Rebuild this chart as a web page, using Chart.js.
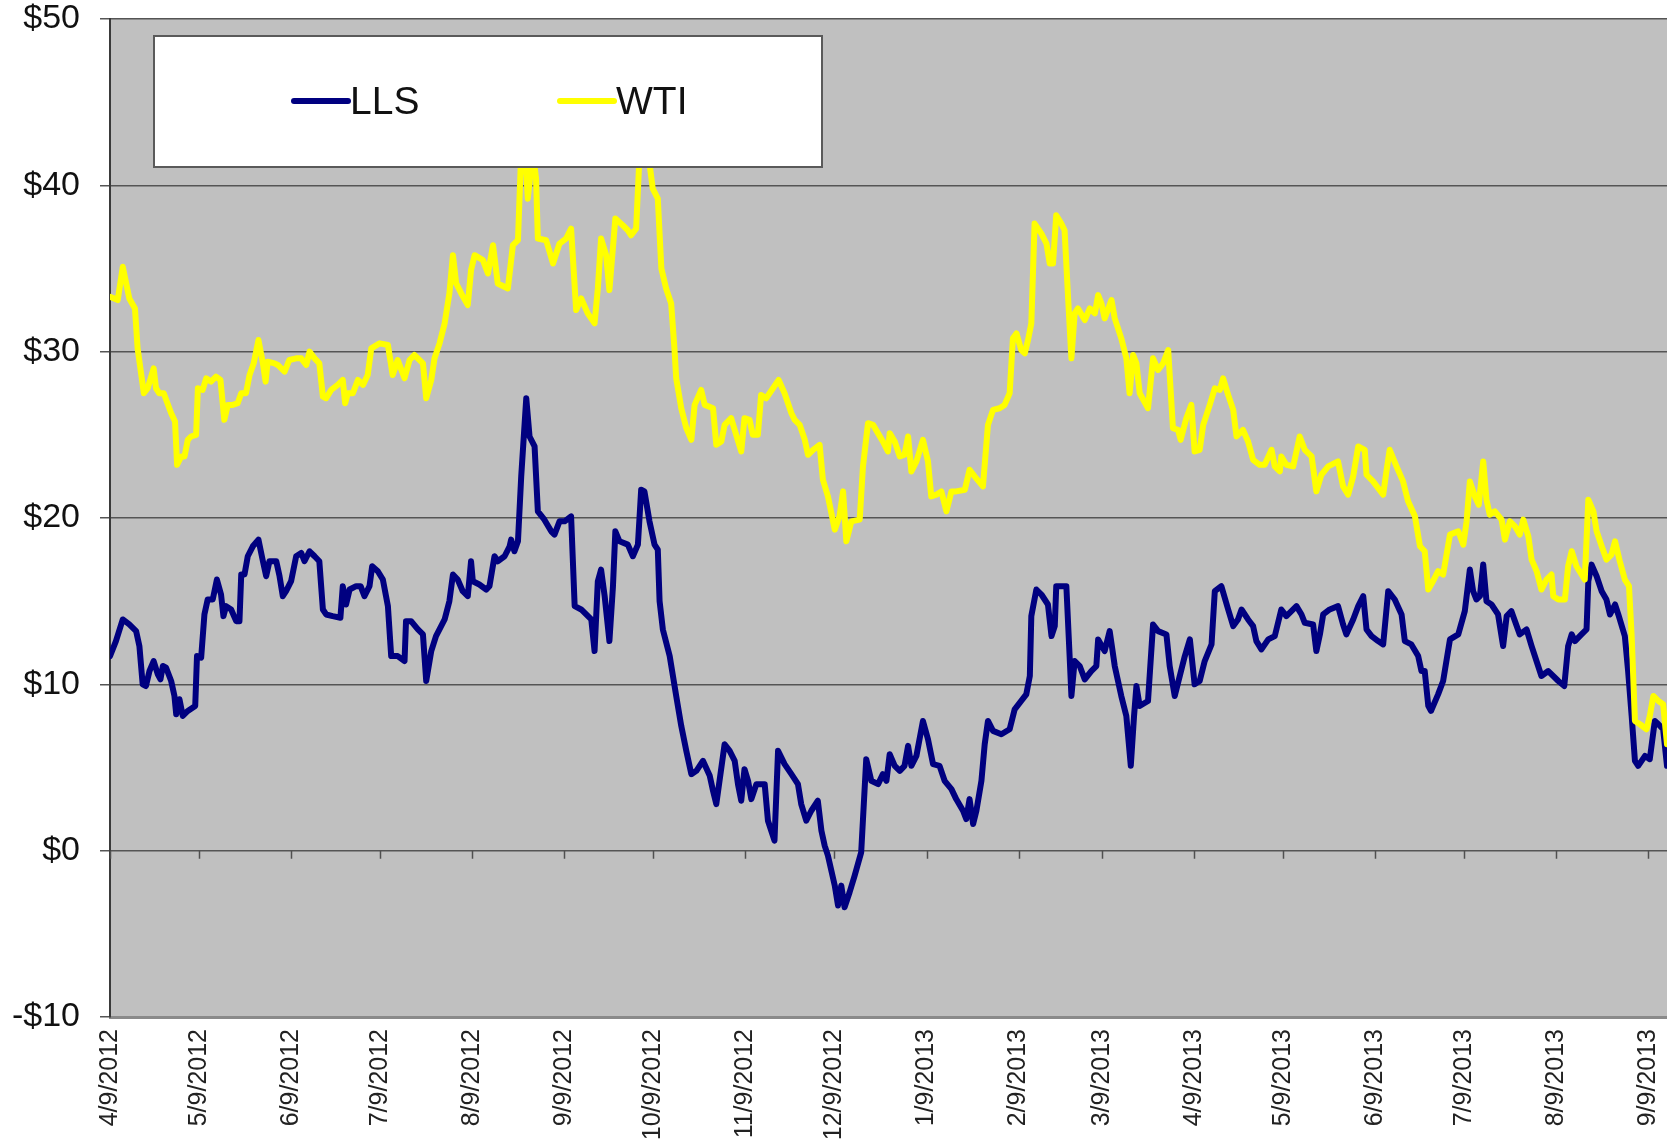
<!DOCTYPE html>
<html>
<head>
    <script src="https://cdn.jsdelivr.net/npm/chart.js@4.4.1/dist/chart.umd.min.js"></script>
</head>
<body>
    <canvas id="spreads" width="1667" height="1144" role="img" aria-label="LLS and WTI spreads"></canvas>
</body>
</html>

<script>
    // Tick labels on the date axis (the 9th of each month)
    const tickLabels = ['4/9/2012', '5/9/2012', '6/9/2012', '7/9/2012', '8/9/2012', '9/9/2012', '10/9/2012',
        '11/9/2012', '12/9/2012', '1/9/2013', '2/9/2013', '3/9/2013', '4/9/2013', '5/9/2013', '6/9/2013',
        '7/9/2013', '8/9/2013', '9/9/2013'];

    // Days since 4/9/2012 and the spread in $ for each series
    const llsDays = [0, 2.0, 4.3, 6.5, 8.8, 9.9, 11.0, 12.1, 13.3, 14.7, 16.1, 17.0, 17.8, 18.9, 20.6, 21.7, 22.3, 23.4, 24.5, 26.2, 28.7, 29.3, 30.7, 31.8, 32.9, 34.6, 36.0, 37.4, 38.2, 39.1, 40.8, 42.5, 43.6, 44.2, 45.3, 46.4, 48.1, 50.0, 51.5, 52.6, 53.7, 56.0, 57.1, 58.2, 59.3, 61.0, 62.7, 64.4, 65.5, 67.2, 68.9, 70.5, 71.7, 72.8, 75.0, 77.6, 78.4, 79.5, 80.7, 82.9, 84.4, 85.7, 87.4, 88.3,
        90.2, 91.9, 93.6, 94.7, 96.9, 99.2, 99.7, 101.4, 103.7, 105.4, 106.5, 108.2, 109.8, 112.7, 114.3, 115.5, 117.1, 118.8, 120.5, 121.6, 122.2, 124.4, 126.7, 127.8, 129.5, 130.6, 132.9, 134.6, 135.1, 136.2, 137.4, 138.5, 140.2, 141.3, 143.0, 144.1, 146.3, 148.6, 149.7, 151.4, 153.1, 155.3, 156.5, 158.7, 162.1, 163.2, 164.3, 165.4, 166.6, 168.2, 169.4, 170.2, 171.6, 174.4,
        176.1, 177.8, 178.9, 180.0, 181.7, 183.4, 184.5, 185.1, 186.2, 188.5, 189.6, 190.7, 192.4, 194.1, 195.8, 197.5, 199.7, 202.0, 203.1, 204.2, 207.0, 208.7, 210.4, 211.5, 212.6, 213.7, 214.9, 216.0, 217.7, 219.3, 220.5, 221.6, 223.8, 225.0, 227.2, 229.5, 231.7, 232.8, 234.5, 236.2, 238.4, 239.6, 240.7, 241.8, 244.1, 245.2, 246.3, 247.4, 249.1, 250.8, 253.0, 254.7, 256.4, 258.7, 260.3, 261.5,
        262.6, 264.3, 266.0, 267.6, 268.8, 269.9, 271.6, 273.8, 275.5, 277.2, 279.4, 281.1, 283.4, 285.0, 287.3, 288.4, 289.5, 290.7, 291.8, 293.5, 294.6, 295.7, 297.4, 300.2, 303.0, 304.7, 306.9, 308.6, 309.8, 310.3, 312.0, 313.7, 315.9, 317.1, 318.2, 318.7, 321.0, 322.1, 323.2, 323.8, 324.9, 326.6, 328.3, 330.5, 332.2, 332.8, 335.0, 336.7, 338.4, 340.6, 342.3, 343.8, 344.9, 345.7, 346.8, 349.6,
        351.3, 353.0, 355.8, 356.9, 358.6, 360.3, 362.0, 363.7, 365.3, 367.0, 368.7, 371.0, 372.1, 374.3, 376.6, 378.3, 379.9, 381.1, 383.3, 385.0, 386.1, 387.8, 390.1, 392.3, 394.5, 396.2, 397.9, 399.6, 401.3, 402.4, 405.2, 406.3, 407.5, 408.6, 410.8, 413.6, 415.3, 416.4, 418.7, 420.4, 422.1, 423.2, 424.9, 427.1, 428.8, 430.5, 432.7, 435.0, 436.1,
        438.3, 440.6, 441.7, 442.8, 444.0, 444.9, 447.3, 449.0, 451.3, 454.1, 456.3, 458.0, 459.1, 460.2, 461.4, 462.5, 463.6, 465.3, 467.5, 469.2, 470.4, 472.0, 474.8, 477.1, 478.8, 481.0, 482.1, 484.4, 487.8, 489.8, 491.1, 492.3, 493.4, 495.6, 497.3, 497.9, 499.0, 500.7, 502.4, 504.0, 505.2, 506.9, 508.0, 510.2, 511.3, 512.5, 513.6, 514.7, 517.0, 518.6, 520.3, 521.5, 523.1, 524.4];
    const llsValues = [11.7, 12.6, 13.9, 13.6, 13.2, 12.3, 10.0, 9.9, 10.8, 11.4, 10.6, 10.3, 11.1, 11.0, 10.2, 9.3, 8.2, 9.1, 8.1, 8.4, 8.7, 11.7, 11.6, 14.2, 15.1, 15.1, 16.3, 15.4, 14.1, 14.7, 14.5, 13.8, 13.8, 16.6, 16.6, 17.7, 18.3, 18.7, 17.4, 16.5, 17.4, 17.4, 16.5, 15.3, 15.6, 16.2, 17.7, 17.9, 17.4, 18.0, 17.7, 17.4, 14.5, 14.2, 14.1, 14.0, 15.9, 14.8, 15.7, 15.9, 15.9, 15.3, 15.9, 17.1,
        16.8, 16.3, 14.7, 11.7, 11.7, 11.4, 13.8, 13.8, 13.3, 13.0, 10.2, 12.0, 12.9, 13.9, 15.0, 16.6, 16.3, 15.6, 15.3, 17.4, 16.2, 16.0, 15.7, 15.9, 17.7, 17.4, 17.7, 18.3, 18.7, 18.0, 18.6, 22.5, 27.2, 24.9, 24.3, 20.4, 19.9, 19.2, 19.0, 19.8, 19.8, 20.1, 14.7, 14.5, 13.9, 12.0, 16.2, 16.9, 15.3, 12.6, 15.9, 19.2, 18.6, 18.4,
        17.7, 18.4, 21.7, 21.6, 19.8, 18.4, 18.1, 15.0, 13.3, 11.7, 10.5, 9.3, 7.5, 6.0, 4.6, 4.8, 5.4, 4.5, 3.6, 2.8, 6.4, 6.0, 5.4, 4.0, 3.0, 4.9, 4.2, 3.1, 4.0, 4.0, 4.0, 1.8, 0.6, 6.0, 5.2, 4.6, 4.0, 2.8, 1.8, 2.4, 3.0, 1.2, 0.3, -0.3, -2.1, -3.3, -2.1, -3.4, -2.5, -1.5, -0.1, 5.5, 4.2, 4.0, 4.6, 4.2,
        5.8, 5.1, 4.8, 5.1, 6.3, 5.1, 5.7, 7.8, 6.7, 5.2, 5.1, 4.2, 3.7, 3.1, 2.4, 1.9, 3.1, 1.6, 2.4, 4.2, 6.4, 7.8, 7.2, 7.0, 7.3, 8.5, 9.0, 9.4, 10.5, 14.1, 15.7, 15.4, 14.8, 12.9, 13.5, 15.9, 15.9, 15.9, 11.7, 9.3, 11.4, 11.1, 10.3, 10.8, 11.1, 12.7, 12.0, 13.2, 11.1, 9.3, 8.1, 5.1, 8.1, 9.9, 8.7, 9.0,
        13.6, 13.2, 13.0, 11.1, 9.3, 10.5, 11.7, 12.7, 10.0, 10.2, 11.4, 12.4, 15.6, 15.9, 14.5, 13.5, 13.9, 14.5, 13.9, 13.5, 12.6, 12.1, 12.7, 12.9, 14.5, 14.1, 14.4, 14.7, 14.2, 13.7, 13.6, 12.0, 13.0, 14.2, 14.5, 14.7, 13.6, 13.0, 13.9, 14.7, 15.3, 13.3, 12.9, 12.6, 12.4, 15.6, 15.1, 14.2, 12.6,
        12.4, 11.7, 10.8, 10.8, 8.7, 8.4, 9.4, 10.2, 12.7, 13.0, 14.4, 16.9, 15.6, 15.1, 15.3, 17.2, 15.0, 14.8, 14.2, 12.3, 14.1, 14.4, 13.0, 13.3, 12.3, 11.1, 10.5, 10.8, 10.2, 9.9, 12.3, 13.0, 12.6, 13.0, 13.3, 16.2, 17.2, 16.5, 15.6, 15.1, 14.2, 14.8, 14.2, 12.9, 10.8, 8.1, 5.4, 5.1, 5.7, 5.5, 7.8, 7.6, 7.3, 5.1];

    const wtiDays = [0, 2.6, 4.3, 6.5, 8.4, 9.3, 11.4, 12.7, 14.7, 15.5, 16.6, 18.1, 20.6, 21.9, 22.6, 24.0, 25.1, 26.2, 27.3, 29.0, 29.6, 31.2, 32.4, 34.0, 35.7, 37.2, 38.5, 39.7, 41.3, 43.0, 44.2, 45.8, 47.0, 48.4, 50.0, 51.5, 52.4, 53.1, 55.4, 56.5, 58.8, 60.4, 62.7, 64.4, 66.1, 67.2, 68.9, 70.5, 71.7, 72.8, 74.5, 76.7, 78.4, 79.2, 80.1, 81.8, 83.5, 85.2, 86.8, 88.0,
        90.8, 93.6, 95.2, 96.9, 99.2, 100.9, 102.5, 105.4, 106.5, 108.2, 109.3, 111.0, 112.7, 114.3, 115.5, 116.6, 118.3, 120.5, 121.6, 122.8, 125.6, 127.3, 129.0, 130.6, 134.0, 135.7, 137.4, 138.5, 139.6, 140.7, 142.4, 143.5, 144.1, 146.9, 149.2, 151.4, 153.6, 155.3, 157.0, 158.7, 160.9, 163.2, 164.3, 165.4, 167.1, 168.2, 170.2, 172.7, 174.4,
        175.5, 177.2, 178.4, 179.5, 181.2, 182.8, 184.5, 185.7, 187.3, 189.0, 190.1, 190.7, 192.4, 194.1, 195.8, 196.9, 199.1, 200.3, 203.1, 204.2, 205.9, 207.0, 209.2, 210.9, 212.6, 213.7, 215.4, 216.5, 218.2, 219.3, 221.0, 223.3, 225.2, 227.2, 229.5, 230.6, 232.3, 234.0, 235.1, 236.8, 239.0, 240.1, 241.8, 244.1, 245.7, 246.9, 248.0, 249.7, 252.5, 253.6, 255.3, 257.0, 260.3, 262.0,
        262.6, 264.3, 266.0, 267.6, 268.8, 269.9, 271.6, 273.8, 275.5, 276.6, 278.3, 280.0, 281.7, 283.4, 285.0, 287.9, 289.5, 291.2, 294.0, 295.7, 297.4, 299.6, 301.3, 303.0, 304.1, 305.3, 306.9, 308.1, 309.2, 310.3, 311.4, 313.7, 315.4, 316.5, 317.6, 318.7, 320.4, 321.5, 322.7, 323.8, 324.9, 326.0, 328.3, 330.0, 331.7, 332.8, 333.9, 335.0, 337.3, 338.4, 340.6, 342.3, 343.4, 344.6, 345.7, 346.8, 349.6,
        351.3, 353.0, 354.7, 356.4, 358.0, 359.7, 360.6, 362.5, 364.2, 365.3, 367.0, 368.2, 370.4, 372.1, 373.8, 374.9, 376.6, 378.3, 379.4, 381.6, 383.3, 385.0, 387.2, 388.9, 391.2, 392.3, 394.0, 394.5, 396.2, 398.5, 400.7, 402.4, 404.7, 406.3, 408.0, 410.3, 413.6, 415.3, 417.0, 418.7, 420.4, 422.6, 423.2, 425.4, 428.8, 429.9, 431.0, 433.3, 435.5,
        437.2, 439.5, 441.2, 442.8, 444.0, 445.6, 447.3, 449.0, 451.3, 454.1, 455.8, 456.9, 458.0, 459.7, 461.0, 462.5, 463.6, 464.7, 466.4, 468.7, 469.8, 471.5, 473.2, 474.8, 476.0, 477.7, 478.8, 480.5, 482.1, 483.8, 485.5, 486.1, 487.8, 490.0, 491.1, 492.3, 493.9, 496.7, 497.9, 499.6, 500.7, 502.4, 504.0, 505.7, 506.9, 508.5, 510.2, 511.6, 512.5, 513.6, 515.3, 517.5, 518.6, 519.8, 521.5, 523.1, 524.4];
    const wtiValues = [33.3, 33.1, 35.1, 33.2, 32.6, 30.2, 27.5, 27.8, 29.0, 27.8, 27.5, 27.5, 26.3, 25.8, 23.2, 23.7, 23.7, 24.7, 24.9, 25.0, 27.8, 27.7, 28.4, 28.2, 28.5, 28.3, 25.9, 26.8, 26.8, 26.9, 27.5, 27.5, 28.6, 29.3, 30.7, 29.3, 28.2, 29.4, 29.3, 29.2, 28.8, 29.5, 29.6, 29.6, 29.2, 30.0, 29.6, 29.3, 27.3, 27.2, 27.7, 28.0, 28.3, 26.9, 27.5, 27.5, 28.3, 28.0, 28.6, 30.2,
        30.5, 30.4, 28.6, 29.5, 28.4, 29.5, 29.8, 29.3, 27.2, 28.3, 29.6, 30.5, 31.7, 33.5, 35.8, 34.1, 33.5, 32.8, 34.9, 35.8, 35.5, 34.7, 36.4, 34.1, 33.8, 36.4, 36.7, 42.0, 43.0, 39.2, 42.0, 40.4, 36.8, 36.7, 35.3, 36.5, 36.8, 37.4, 32.5, 33.2, 32.3, 31.7, 33.8, 36.8, 35.8, 33.7, 38.0, 37.6, 37.3,
        37.0, 37.4, 42.0, 42.5, 42.0, 39.8, 39.2, 35.0, 33.8, 32.9, 30.2, 28.4, 26.6, 25.4, 24.7, 26.8, 27.7, 26.8, 26.6, 24.4, 24.6, 25.6, 26.0, 25.0, 24.0, 26.0, 25.9, 25.0, 25.0, 27.4, 27.2, 27.8, 28.3, 27.5, 26.3, 25.9, 25.6, 24.7, 23.8, 24.1, 24.4, 22.3, 21.3, 19.3, 20.1, 21.6, 18.6, 19.8, 19.9, 23.1, 25.7, 25.6, 24.6, 24.0,
        25.1, 24.6, 23.7, 23.8, 24.9, 22.8, 23.4, 24.7, 23.4, 21.3, 21.4, 21.6, 20.4, 21.6, 21.6, 21.7, 22.9, 22.5, 21.9, 25.6, 26.5, 26.6, 26.8, 27.5, 30.8, 31.1, 30.1, 29.9, 30.7, 31.7, 37.7, 37.1, 36.5, 35.3, 35.3, 38.2, 37.7, 37.3, 33.2, 29.6, 32.3, 32.6, 31.9, 32.6, 32.3, 33.4, 32.9, 32.0, 33.1, 32.0, 30.8, 29.6, 27.5, 29.8, 29.3, 27.5, 26.6,
        29.6, 28.9, 29.3, 30.1, 25.4, 25.3, 24.7, 26.0, 26.8, 24.0, 24.1, 25.6, 26.8, 27.8, 27.7, 28.4, 27.4, 26.5, 24.9, 25.3, 24.6, 23.5, 23.2, 23.2, 24.1, 23.1, 22.8, 23.7, 23.2, 23.1, 24.9, 24.1, 23.7, 21.6, 22.6, 23.1, 23.4, 21.9, 21.4, 22.5, 24.3, 24.1, 22.6, 22.2, 21.4, 22.8, 24.1, 23.1, 22.2,
        21.0, 20.1, 18.3, 18.0, 15.7, 16.2, 16.8, 16.6, 19.0, 19.2, 18.4, 19.8, 22.2, 21.3, 20.8, 23.4, 21.1, 20.2, 20.4, 19.9, 18.7, 19.8, 19.5, 19.0, 19.9, 18.9, 17.5, 16.8, 15.7, 16.3, 16.6, 15.3, 15.1, 15.1, 17.1, 18.0, 17.1, 16.3, 21.1, 20.4, 19.2, 18.3, 17.5, 17.8, 18.6, 17.4, 16.3, 15.9, 12.9, 7.8, 7.6, 7.3, 8.1, 9.3, 9.0, 8.8, 6.4];

    const seriesNames = ['LLS', 'WTI'];
    const seriesColors = ['#000080', '#FFFF00'];

    Chart.defaults.font.family = "'Liberation Sans', Arial, sans-serif";

    // day offsets of the tick labels
    const startDate = Date.UTC(2012, 3, 9);
    const tickDays = tickLabels.map(label => {
        const [m, d, y] = label.split('/').map(Number);
        return (Date.UTC(y, m - 1, d) - startDate) / 86400000;
    });
    const lastDay = Math.max(llsDays[llsDays.length - 1], wtiDays[wtiDays.length - 1]);

    const toPoints = (days, values) => days.map((d, i) => ({ x: d, y: values[i] }));

    // grey plot area like the Excel chart
    const plotBackground = {
        id: 'plotBackground',
        beforeDraw: (chart) => {
            const { ctx, chartArea: a } = chart;
            ctx.save();
            ctx.fillStyle = '#C0C0C0';
            ctx.fillRect(a.left, a.top, a.right - a.left, a.bottom - a.top);
            ctx.restore();
        }
    };

    // the category axis crosses at $0, so its tick marks sit on that line
    const zeroTicks = {
        id: 'zeroTicks',
        beforeDatasetsDraw: (chart) => {
            const { ctx, scales: { x, y } } = chart;
            const y0 = y.getPixelForValue(0);
            ctx.save();
            ctx.strokeStyle = '#505050';
            ctx.lineWidth = 1.5;
            ctx.beginPath();
            tickDays.forEach(d => {
                const px = Math.round(x.getPixelForValue(d)) + 0.5;
                ctx.moveTo(px, y0);
                ctx.lineTo(px, y0 + 8);
            });
            ctx.stroke();
            ctx.restore();
        }
    };

    // legend box drawn over the lines, inside the plot
    const boxLegend = {
        id: 'boxLegend',
        afterDatasetsDraw: (chart) => {
            const { ctx, chartArea: a } = chart;
            const left = a.left + 44;
            const top = a.top + 17;
            const midY = top + 65;
            ctx.save();
            ctx.fillStyle = '#FFFFFF';
            ctx.fillRect(left, top, 668, 131);
            ctx.strokeStyle = '#5a5a5a';
            ctx.lineWidth = 2;
            ctx.strokeRect(left, top, 668, 131);
            ctx.font = "39px 'Liberation Sans', Arial, sans-serif";
            ctx.textBaseline = 'middle';
            ctx.lineCap = 'round';
            const starts = [left + 140, left + 406];
            seriesNames.forEach((name, i) => {
                ctx.strokeStyle = seriesColors[i];
                ctx.lineWidth = 6;
                ctx.beginPath();
                ctx.moveTo(starts[i], midY);
                ctx.lineTo(starts[i] + 54, midY);
                ctx.stroke();
                ctx.fillStyle = '#111111';
                ctx.fillText(name, starts[i] + 56, midY + 2);
            });
            ctx.restore();
        }
    };

    const spreadChart = new Chart(document.getElementById('spreads'), {
        type: 'line',
        data: {
            datasets: [{
                label: seriesNames[0],
                data: toPoints(llsDays, llsValues),
                borderColor: seriesColors[0],
                borderWidth: 6,
                order: 2
            }, {
                label: seriesNames[1],
                data: toPoints(wtiDays, wtiValues),
                borderColor: seriesColors[1],
                borderWidth: 6,
                order: 1
            }]
        },
        options: {
            responsive: false,
            animation: false,
            devicePixelRatio: 1,
            layout: { padding: { top: 19, right: 0, bottom: 0, left: 0 } },
            elements: {
                point: { radius: 0 },
                line: { tension: 0, borderJoinStyle: 'round', borderCapStyle: 'round' }
            },
            plugins: {
                legend: { display: false },
                tooltip: { enabled: false }
            },
            scales: {
                x: {
                    type: 'linear',
                    min: 0,
                    max: lastDay,
                    afterBuildTicks: (scale) => { scale.ticks = tickDays.map(v => ({ value: v })); },
                    afterFit: (scale) => {
                        scale.height = 127;
                        scale.paddingLeft = 0;
                        scale.paddingRight = 0;
                    },
                    ticks: {
                        autoSkip: false,
                        minRotation: 90,
                        maxRotation: 90,
                        padding: 12,
                        color: '#222222',
                        font: { size: 25 },
                        callback: (value, index) => tickLabels[index]
                    },
                    grid: { color: 'rgba(0,0,0,0)', drawTicks: false },
                    border: { display: true, color: '#8a8a8a', width: 3 }
                },
                y: {
                    min: -10,
                    max: 50,
                    afterFit: (scale) => {
                        scale.width = 110;
                        scale.paddingTop = 0;
                        scale.paddingBottom = 0;
                    },
                    ticks: {
                        stepSize: 10,
                        padding: 20,
                        color: '#111111',
                        font: { size: 34 },
                        callback: (value) => (value < 0 ? '-$' : '$') + Math.abs(value)
                    },
                    grid: { color: '#555555', lineWidth: 1.5, tickLength: 10, tickColor: '#555555' },
                    border: { display: true, color: '#3a3a3a', width: 2 }
                }
            }
        },
        plugins: [plotBackground, zeroTicks, boxLegend]
    });
</script>

<style>
html, body {
    margin: 0;
    padding: 0;
    background-color: #FFFFFF;
    overflow: hidden;
}
canvas {
    display: block;
}
</style>
